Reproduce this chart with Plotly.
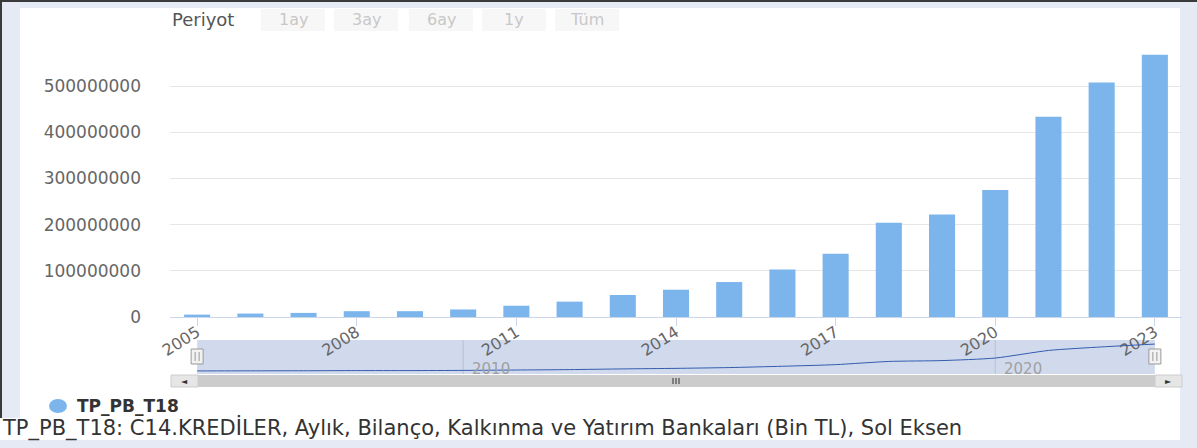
import plotly.graph_objects as go

# ---------------- data ----------------
years = list(range(2005, 2024))
values = [5.2e6, 7.4e6, 8.9e6, 12.6e6, 12.6e6, 16.3e6, 24.4e6, 33.3e6, 47.6e6,
          59.1e6, 75.7e6, 103e6, 137e6, 204e6, 222e6, 275e6, 434e6, 508e6, 568e6]
x_tickvals = [2005, 2008, 2011, 2014, 2017, 2020, 2023]
y_tickvals = [0, 1e8, 2e8, 3e8, 4e8, 5e8, 6e8]
y_ticktext = ["0", "100000000", "200000000", "300000000", "400000000", "500000000", ""]
nav_ticks = [2010, 2020]
period_buttons = ["1ay", "3ay", "6ay", "1y", "Tüm"]
series_name = "TP_PB_T18"
description = "TP_PB_T18: C14.KREDİLER, Aylık, Bilanço, Kalkınma ve Yatırım Bankaları (Bin TL), Sol Eksen"

# ---------------- helpers ----------------
W, H = 1197, 448
FONT = "DejaVu Sans"
BAR_COLOR = "#7cb5ec"


def px(x):
    return x / W


def py(y):
    return 1 - y / H


fig = go.Figure()

fig.add_trace(go.Bar(x=years, y=values, marker=dict(color=BAR_COLOR, line=dict(width=0)),
                     width=0.49, xaxis="x", yaxis="y", name=series_name, showlegend=False))
fig.add_trace(go.Scatter(x=years, y=values, mode="lines",
                         line=dict(color="#335cad", width=1, shape="spline", smoothing=0.6),
                         xaxis="x2", yaxis="y2", showlegend=False, hoverinfo="skip"))

x_dom = [px(170), px(1182)]
x_rng = [years[0] - 0.51, years[-1] + 0.51]

shapes = []
annotations = []

# page frame
shapes.append(dict(type="rect", xref="paper", yref="paper", x0=px(20), x1=px(1180), y0=py(440), y1=py(8),
                   fillcolor="white", line=dict(width=0), layer="below"))
shapes.append(dict(type="rect", xref="paper", yref="paper", x0=0, x1=px(1180), y0=py(440), y1=py(418),
                   fillcolor="white", line=dict(width=0), layer="below"))
shapes.append(dict(type="rect", xref="paper", yref="paper", x0=0, x1=1, y0=py(2), y1=1,
                   fillcolor="#3a3a3a", line=dict(width=0), layer="below"))
shapes.append(dict(type="rect", xref="paper", yref="paper", x0=0, x1=px(2), y0=py(418), y1=1,
                   fillcolor="#3a3a3a", line=dict(width=0), layer="below"))

# period selector
annotations.append(dict(text="Periyot", xref="paper", yref="paper", x=px(170), y=py(20),
                        xanchor="left", yanchor="middle", showarrow=False,
                        font=dict(family=FONT, size=18, color="#555555")))
btn_left = [261, 334, 409, 482, 555]
for lbl, bx in zip(period_buttons, btn_left):
    shapes.append(dict(type="rect", xref="paper", yref="paper", x0=px(bx), x1=px(bx + 64),
                       y0=py(31), y1=py(9), fillcolor="#f7f7f7", line=dict(width=0), layer="below"))
    annotations.append(dict(text=lbl, xref="paper", yref="paper", x=px(bx + 32), y=py(20),
                            xanchor="center", yanchor="middle", showarrow=False,
                            font=dict(family=FONT, size=16, color="#c8c8c8")))

# navigator
shapes.append(dict(type="rect", xref="x2", yref="paper", x0=years[0], x1=years[-1],
                   y0=py(374), y1=py(340), fillcolor="#d1daed", line=dict(width=0), layer="below"))
for t in nav_ticks:
    shapes.append(dict(type="line", xref="x2", yref="paper", x0=t, x1=t, y0=py(374), y1=py(340),
                       line=dict(color="rgba(0,0,0,0.12)", width=1), layer="below"))
    annotations.append(dict(text=str(t), xref="x2", yref="paper", x=t, xshift=7, y=py(369),
                            xanchor="left", yanchor="middle", showarrow=False,
                            font=dict(family=FONT, size=15, color="#a0a0a0")))
for yr in (years[0], years[-1]):
    shapes.append(dict(type="rect", xref="x2", yref="paper", xsizemode="pixel", xanchor=yr,
                       x0=-6, x1=6, y0=py(364), y1=py(349), fillcolor="#f2f2f2",
                       line=dict(color="#999999", width=1), layer="above"))
    for off in (-2, 2):
        shapes.append(dict(type="line", xref="x2", yref="paper", xsizemode="pixel", xanchor=yr,
                           x0=off, x1=off, y0=py(361), y1=py(352),
                           line=dict(color="#999999", width=1), layer="above"))

# scrollbar
shapes.append(dict(type="rect", xref="paper", yref="paper", x0=px(171), x1=px(1182), y0=py(387), y1=py(375),
                   fillcolor="#f2f2f2", line=dict(width=0), layer="above"))
shapes.append(dict(type="rect", xref="paper", yref="paper", x0=px(198), x1=px(1155), y0=py(387), y1=py(375),
                   fillcolor="#cccccc", line=dict(width=0), layer="above"))
for bx0, bx1 in ((171, 198), (1155, 1182)):
    shapes.append(dict(type="rect", xref="paper", yref="paper", x0=px(bx0), x1=px(bx1), y0=py(387), y1=py(375),
                       fillcolor="#e6e6e6", line=dict(color="#cccccc", width=1), layer="above"))
for gx in (673, 676, 679):
    shapes.append(dict(type="line", xref="paper", yref="paper", x0=px(gx), x1=px(gx), y0=py(384), y1=py(378),
                       line=dict(color="#333333", width=1), layer="above"))
annotations.append(dict(text="◄", xref="paper", yref="paper", x=px(184.5), y=py(381), showarrow=False,
                        xanchor="center", yanchor="middle", font=dict(family=FONT, size=8, color="#333333")))
annotations.append(dict(text="►", xref="paper", yref="paper", x=px(1168.5), y=py(381), showarrow=False,
                        xanchor="center", yanchor="middle", font=dict(family=FONT, size=8, color="#333333")))

# legend
shapes.append(dict(type="circle", xref="paper", yref="paper", x0=px(49), x1=px(67), y0=py(413), y1=py(399),
                   fillcolor=BAR_COLOR, line=dict(width=0), layer="above"))
annotations.append(dict(text="<b>" + series_name + "</b>", xref="paper", yref="paper", x=px(75), y=py(406),
                        xanchor="left", yanchor="middle", showarrow=False,
                        font=dict(family=FONT, size=17, color="#333333")))
annotations.append(dict(text=description, xref="paper", yref="paper", x=px(0), y=py(428),
                        xanchor="left", yanchor="middle", showarrow=False,
                        font=dict(family=FONT, size=21, color="#333333")))

fig.update_layout(
    width=W, height=H,
    margin=dict(l=0, r=0, t=0, b=0, autoexpand=False),
    paper_bgcolor="#e5eaf5",
    plot_bgcolor="rgba(0,0,0,0)",
    bargap=0.5,
    showlegend=False,
    shapes=shapes,
    annotations=annotations,
    xaxis=dict(domain=x_dom, range=x_rng, anchor="y", tickmode="array", tickvals=x_tickvals,
               ticks="outside", ticklen=8, tickcolor="#ccd6eb", showline=True, linecolor="#ccd6eb",
               tickangle=-32, tickfont=dict(family=FONT, size=16, color="#666666"),
               ticklabelstandoff=-9,
               showgrid=False, zeroline=False, fixedrange=True, automargin=False),
    yaxis=dict(domain=[py(317), py(40)], range=[0, 6e8], tickmode="array", tickvals=y_tickvals,
               ticktext=y_ticktext, gridcolor="#e6e6e6", showline=False, zeroline=False,
               tickfont=dict(family=FONT, size=17, color="#666666"), ticklabelstandoff=28,
               fixedrange=True, automargin=False),
    xaxis2=dict(domain=x_dom, range=x_rng, anchor="y2", showticklabels=False, showgrid=False,
                zeroline=False, showline=False, ticks="", fixedrange=True, automargin=False),
    yaxis2=dict(domain=[py(374), py(340)], range=[-59e6, 653e6], visible=False, fixedrange=True,
                automargin=False),
)

fig.write_html("out.html", config={"displayModeBar": False},
               post_script="document.body.style.margin='0';document.body.style.overflow='hidden';")
